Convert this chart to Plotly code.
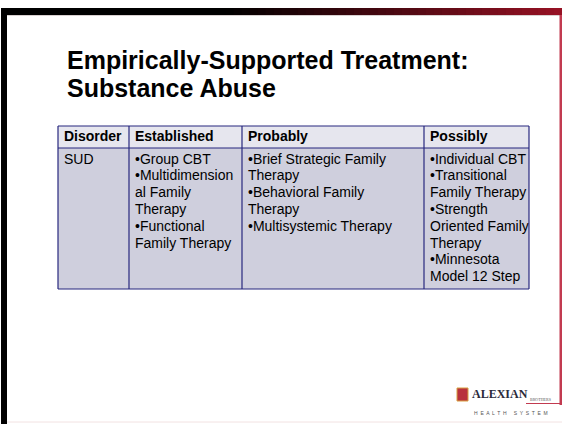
import plotly.graph_objects as go

title_lines = ["Empirically-Supported Treatment:", "Substance Abuse"]
headers = ["Disorder", "Established", "Probably", "Possibly"]
cells = [
    ["SUD"],
    ["•Group CBT", "•Multidimension", "al Family", "Therapy", "•Functional", "Family Therapy"],
    ["•Brief Strategic Family", "Therapy", "•Behavioral Family", "Therapy", "•Multisystemic Therapy"],
    ["•Individual CBT", "•Transitional", "Family Therapy", "•Strength", "Oriented Family",
     "Therapy", "•Minnesota", "Model 12 Step"],
]

W, H = 562, 424
FONT = "Liberation Sans, Arial, sans-serif"
BORDER = "#27277f"
HEAD_FILL = "#e6e6ee"
BODY_FILL = "#cfcfdd"

# table geometry (pixels)
TX0 = 58
COL_W = [71, 113, 182, 105]
T_TOP, H_BOT, T_BOT = 126, 148, 289
PAD_X = 6
LINE_H = 16.8
FIRST_LINE = 160

bounds = [TX0]
for w in COL_W:
    bounds.append(bounds[-1] + w)

fig = go.Figure()

shapes = []
# table fills
shapes.append(dict(type="rect", xref="x", yref="y", x0=bounds[0], x1=bounds[-1], y0=T_TOP, y1=H_BOT,
                   fillcolor=HEAD_FILL, line=dict(width=0), layer="below"))
shapes.append(dict(type="rect", xref="x", yref="y", x0=bounds[0], x1=bounds[-1], y0=H_BOT, y1=T_BOT,
                   fillcolor=BODY_FILL, line=dict(width=0), layer="below"))
# grid lines
for yy in (T_TOP, H_BOT, T_BOT):
    shapes.append(dict(type="line", xref="x", yref="y", x0=bounds[0], x1=bounds[-1], y0=yy, y1=yy,
                       line=dict(color=BORDER, width=1.2)))
for xx in bounds:
    shapes.append(dict(type="line", xref="x", yref="y", x0=xx, x1=xx, y0=T_TOP, y1=T_BOT,
                       line=dict(color=BORDER, width=1.2)))

# header text
fig.add_trace(go.Scatter(
    x=[b + PAD_X for b in bounds[:-1]], y=[(T_TOP + H_BOT) / 2 + 0.5] * len(headers),
    text=[f"<b>{h}</b>" for h in headers], mode="text", textposition="middle right",
    textfont=dict(family=FONT, size=14, color="black"), hoverinfo="skip", showlegend=False))

# body text
bx, by, bt = [], [], []
for ci, col in enumerate(cells):
    for li, line in enumerate(col):
        bx.append(bounds[ci] + PAD_X)
        by.append(FIRST_LINE + li * LINE_H)
        bt.append(line)
fig.add_trace(go.Scatter(
    x=bx, y=by, text=bt, mode="text", textposition="middle right",
    textfont=dict(family=FONT, size=14, color="black"), hoverinfo="skip", showlegend=False))

# slide frame: left black bar
shapes.append(dict(type="rect", xref="x", yref="y", x0=1, x1=7, y0=8, y1=H,
                   fillcolor="black", line=dict(width=0), layer="above"))
# top gradient bar black -> red
n = 70
for i in range(n):
    t = i / (n - 1)
    t2 = max(0.0, (t - 0.4) / 0.6)
    r = int(150 * t2)
    g = int(18 * t2)
    b = int(36 * t2)
    shapes.append(dict(type="rect", xref="x", yref="y",
                       x0=1 + i * (W - 1) / n, x1=1 + (i + 1) * (W - 1) / n + 1, y0=8, y1=15,
                       fillcolor=f"rgb({r},{g},{b})", line=dict(width=0), layer="above"))
# thin shadow under top bar
shapes.append(dict(type="line", xref="x", yref="y", x0=7, x1=W - 2, y0=15.5, y1=15.5,
                   line=dict(color="#d8d0d0", width=1)))
# right red edge
shapes.append(dict(type="rect", xref="x", yref="y", x0=559.5, x1=W, y0=15, y1=405,
                   fillcolor="#c23a50", line=dict(width=0)))
# faint bottom line
shapes.append(dict(type="line", xref="x", yref="y", x0=7, x1=W, y0=422, y1=422,
                   line=dict(color="#f2e2e2", width=1)))
# logo swoosh line
shapes.append(dict(type="line", xref="x", yref="y", x0=526, x1=W, y0=403.5, y1=403.5,
                   line=dict(color="#c23a50", width=1)))
# logo emblem
shapes.append(dict(type="rect", xref="x", yref="y", x0=457, x1=468, y0=388, y1=401,
                   fillcolor="#b8323e", line=dict(color="#d8a040", width=1)))

annotations = [
    dict(text=f"<b>{title_lines[0]}</b>", x=65, y=60, xref="x", yref="y",
         xanchor="left", yanchor="middle", showarrow=False,
         font=dict(family=FONT, size=25, color="black")),
    dict(text=f"<b>{title_lines[1]}</b>", x=65, y=88, xref="x", yref="y",
         xanchor="left", yanchor="middle", showarrow=False,
         font=dict(family=FONT, size=25, color="black")),
    dict(text="<b>ALEXIAN</b>", x=470, y=394, xref="x", yref="y",
         xanchor="left", yanchor="middle", showarrow=False,
         font=dict(family="Liberation Serif, serif", size=12, color="#2a2a3a")),
    dict(text="BROTHERS", x=528, y=399, xref="x", yref="y",
         xanchor="left", yanchor="middle", showarrow=False,
         font=dict(family="Liberation Serif, serif", size=4, color="#555")),
    dict(text="H  E  A  L  T  H     S  Y  S  T  E  M", x=511, y=412.5, xref="x", yref="y",
         xanchor="center", yanchor="middle", showarrow=False,
         font=dict(family=FONT, size=5, color="#555")),
]

fig.update_layout(width=W, height=H, margin=dict(l=0, r=0, t=0, b=0),
                  paper_bgcolor="white", plot_bgcolor="white",
                  xaxis=dict(range=[0, W], visible=False, fixedrange=True),
                  yaxis=dict(range=[H, 0], visible=False, fixedrange=True),
                  shapes=shapes, annotations=annotations)
fig.write_html("out.html", config={"displayModeBar": False},
               post_script="document.body.style.margin='0px';")
